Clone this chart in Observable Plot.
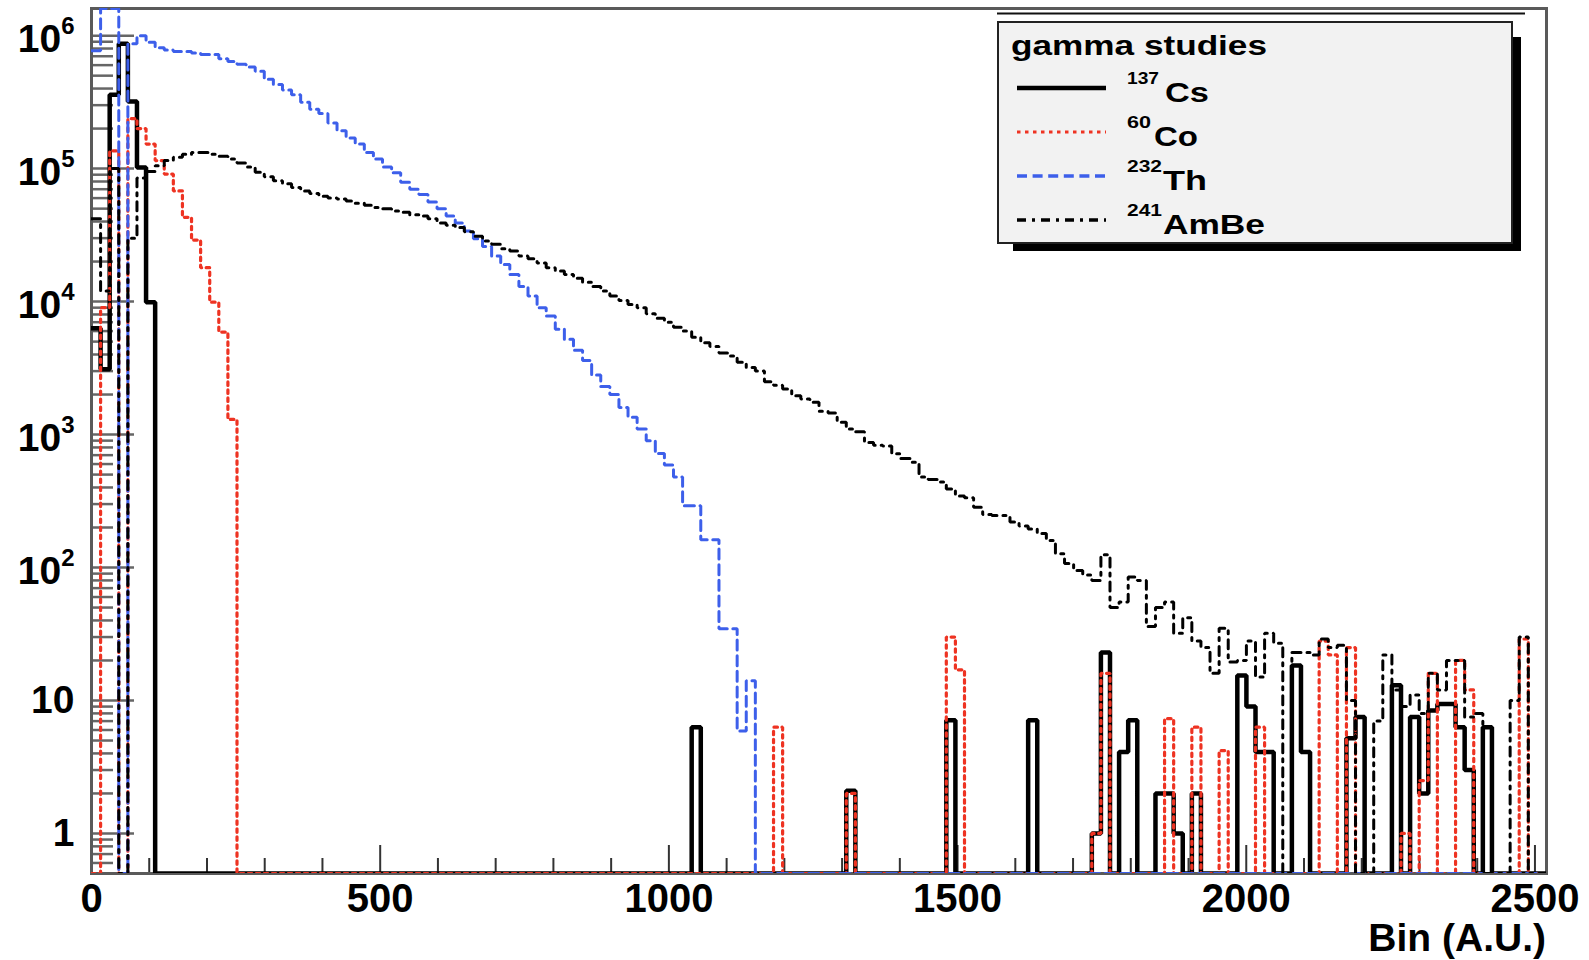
<!DOCTYPE html>
<html><head><meta charset="utf-8">
<script src="https://cdn.jsdelivr.net/npm/d3@7"></script>
<script src="https://cdn.jsdelivr.net/npm/@observablehq/plot@0.6"></script>
<style>
html,body{margin:0;padding:0;background:#fff;}
#chart{position:relative;width:1589px;height:960px;}
</style></head><body><div id="chart"></div>
<script>
// ---------- data ----------
const binWidth = 15.75;          // bin width (A.U.)
const nBins = 160;               // 0 .. 2520
const xDomain = [0, 2520];
const yDomain = [0.5, 1.6e6];

const seriesNames = ["137Cs", "60Co", "232Th", "241AmBe"];

// 137Cs (sparse: bin index -> counts)
const csBins   = [0,1,2,3,4,5,6,66,83,94,103,110,111,113,114,117,118,119,121,126,127,128,129,132,133,138,139,143,145,146,147,148,149,150,151,153];
const csCounts = [6300,3100,3.6e5,8.7e5,3.2e5,1.02e5,9900,6.3,2.1,7.1,7.1,1,23,4.1,7.1,2,2,1,2,15.4,9,4.1,4.1,18.3,4.1,5.2,7.5,13,7.5,2,8.4,9.4,9.4,6.3,3,6.3];

// 60Co (sparse)
const coBins   = [1,2,4,5,6,7,8,9,10,11,12,13,14,15,75,83,94,95,110,111,118,121,124,128,135,136,138,144,146,147,150,151,157];
const coCounts = [9000,1.36e5,2.38e5,2.0e5,1.53e5,1.15e5,9.1e4,6.8e4,4.3e4,2.9e4,1.8e4,9.9e3,5.9e3,1.3e3,6.3,2,30,17,1,16,7.3,6.3,4.2,6.3,28,22,25,1,2.5,16,20,12,29];

// 232Th (dense from bin 0)
const thCounts = [7.7e5,3e6,3e6,0,8.7e5,1.0e6,8.9e5,8.1e5,7.8e5,7.6e5,7.6e5,7.4e5,7.2e5,7.2e5,6.7e5,6.4e5,6.1e5,5.8e5,5.4e5,4.7e5,
  4.3e5,3.9e5,3.6e5,3.15e5,2.8e5,2.6e5,2.2e5,1.93e5,1.7e5,1.53e5,1.32e5,1.18e5,1.03e5,9.3e4,7.9e4,7.0e4,6.4e4,5.6e4,5.0e4,4.4e4,
  3.9e4,3.4e4,2.97e4,2.6e4,2.2e4,1.9e4,1.6e4,1.3e4,1.1e4,9.0e3,7.8e3,6.2e3,5.2e3,4.3e3,3.6e3,2.8e3,2.3e3,2.0e3,1.6e3,1.35e3,
  1.1e3,900,720,590,480,292,292,162,162,34.6,34.6,5.9,14.1];

// 241AmBe (dense from bin 0)
const ambeCounts = [4.2e4,1.2e4,1.0e5,0,3.0e4,8.5e4,9.5e4,1.05e5,1.15e5,1.22e5,1.28e5,1.32e5,1.32e5,1.28e5,1.24e5,1.18e5,1.1e5,1.03e5,9.4e4,8.7e4,
  8.1e4,7.7e4,7.2e4,6.8e4,6.5e4,6.2e4,6.0e4,5.9e4,5.7e4,5.5e4,5.3e4,5.1e4,5.0e4,4.8e4,4.7e4,4.5e4,4.4e4,4.2e4,3.9e4,3.75e4,
  3.6e4,3.35e4,3.1e4,2.85e4,2.7e4,2.5e4,2.4e4,2.2e4,2.1e4,1.95e4,1.8e4,1.7e4,1.6e4,1.5e4,1.4e4,1.3e4,1.2e4,1.1e4,1.02e4,9.5e3,
  9.0e3,8.1e3,7.5e3,7.0e3,6.4e3,6.0e3,5.4e3,4.9e3,4.6e3,4.1e3,3.9e3,3.5e3,3.2e3,3.0e3,2.5e3,2.35e3,2.2e3,1.96e3,1.85e3,1.75e3,
  1.5e3,1.45e3,1.24e3,1.1e3,1.05e3,870,830,820,716,660,620,480,460,440,390,345,335,284,250,246,
  246,220,205,195,180,160,127,107,95,88,80,125,50,55,85,80,36,50,55,32,
  42,28,25,16,35,19.5,20,28,15,32,27,0,23,23,22,29,25,26,10,0,
  0,7,22,12,9,11,8,16,12,20,20,7.5,8,0,0,0,10,30,0,0];

// axis ticks
const xMajor = [0, 500, 1000, 1500, 2000, 2500];
const xMinor = d3.range(100, 2500, 100).filter(v => v % 500 !== 0);
const yMajor = [1, 10, 100, 1e3, 1e4, 1e5, 1e6];
const yMinor = [];
for (let n = -1; n <= 5; n++) for (let k = 2; k <= 9; k++) { const v = k * Math.pow(10, n); if (v >= 0.5 && v <= yDomain[1]) yMinor.push(v); }

// ---------- build ----------
function histPoints(bins, counts) {
  const dense = new Array(nBins).fill(0);
  bins.forEach((b, i) => { dense[b] = counts[i]; });
  const pts = dense.map((v, i) => ({x: i * binWidth, y: Math.min(Math.max(v, yDomain[0]), yDomain[1])}));
  pts.push({x: nBins * binWidth, y: pts[pts.length - 1].y});
  return pts;
}
const csPts = histPoints(csBins, csCounts);
const coPts = histPoints(coBins, coCounts);
const thPts = histPoints(d3.range(thCounts.length), thCounts);
const ambePts = histPoints(d3.range(ambeCounts.length), ambeCounts);

const W = 1589, H = 960, mL = 91, mR = 43, mT = 8, mB = 87;
const plotW = W - mL - mR, plotH = H - mT - mB;

const colCs = "#000000", colCo = "#ee3322", colTh = "#3d5fea", colAm = "#000000";
const dashCo = "3.5,4.5", dashTh = "10,5.6", dashAm = "9,6,3,6";

const plot = Plot.plot({
  width: W, height: H,
  marginLeft: mL, marginRight: mR, marginTop: mT, marginBottom: mB,
  x: {domain: xDomain},
  y: {type: "log", domain: yDomain},
  style: {fontFamily: "'Liberation Sans', Arial, Helvetica, sans-serif", fontWeight: "bold", color: "#000", background: "#fff"},
  marks: [
    Plot.ruleY(yMinor, {stroke: "#666", strokeWidth: 2.5, insetRight: plotW - 22}),
    Plot.ruleY(yMajor, {stroke: "#666", strokeWidth: 2.5, insetRight: plotW - 43}),
    Plot.ruleX(xMinor, {stroke: "#333", strokeWidth: 2, insetTop: plotH - 15}),
    Plot.ruleX(xMajor, {stroke: "#333", strokeWidth: 2, insetTop: plotH - 28}),
    Plot.frame({stroke: "#5a5a5a", strokeWidth: 3}),
    Plot.line(csPts, {x: "x", y: "y", curve: "step-after", stroke: colCs, strokeWidth: 4.5, strokeLinejoin: "miter", clip: true}),
    Plot.line(coPts, {x: "x", y: "y", curve: "step-after", stroke: colCo, strokeWidth: 3.2, strokeDasharray: dashCo, strokeLinejoin: "miter", clip: true}),
    Plot.line(thPts, {x: "x", y: "y", curve: "step-after", stroke: colTh, strokeWidth: 3, strokeDasharray: dashTh, strokeLinejoin: "miter", clip: true}),
    Plot.line(ambePts, {x: "x", y: "y", curve: "step-after", stroke: colAm, strokeWidth: 3, strokeDasharray: dashAm, strokeLinejoin: "miter", clip: true}),
    Plot.axisX({ticks: xMajor, tickSize: 0, tickPadding: 10, fontSize: 40, label: null, tickFormat: d => String(d)}),
    Plot.axisY({ticks: yMajor, tickSize: 0, tickPadding: 17, fontSize: 39, label: null,
      tickFormat: d => d >= 100 ? "10^" + Math.round(Math.log10(d)) : String(d)})
  ]
});
document.getElementById("chart").appendChild(plot);

const svg = d3.select(plot);
// superscript exponents on y labels
svg.selectAll("text").each(function() {
  const t = this.textContent;
  if (t.indexOf("^") >= 0) {
    const [base, exp] = t.split("^");
    const s = d3.select(this);
    s.text(base).attr("dy", 4);
    s.append("tspan").attr("dy", -18).attr("font-size", 24).text(exp);
  }
});

// x-axis title
svg.append("text").attr("x", W - mR).attr("y", 951).attr("text-anchor", "end")
  .attr("font-size", 39).attr("font-weight", "bold").attr("fill", "#000").text("Bin (A.U.)");

// top (title pave) edge line
svg.append("line").attr("x1", 997).attr("x2", 1525).attr("y1", 13.5).attr("y2", 13.5)
  .attr("stroke", "#111").attr("stroke-width", 2);

// legend
const lg = svg.append("g").attr("font-family", "'Liberation Sans', Arial, sans-serif")
  .attr("font-weight", "bold").attr("text-anchor", "start").attr("fill", "#000");
lg.append("rect").attr("x", 1013).attr("y", 37).attr("width", 508).attr("height", 214).attr("fill", "#000");
lg.append("rect").attr("x", 998).attr("y", 22).attr("width", 514).attr("height", 221)
  .attr("fill", "#f2f2f2").attr("stroke", "#222").attr("stroke-width", 2);
lg.append("text").attr("x", 1011).attr("y", 55).attr("font-size", 28).attr("text-anchor", "start")
  .attr("textLength", 256).attr("lengthAdjust", "spacingAndGlyphs").text("gamma studies");

const entries = [
  {sup: "137", main: "Cs", supW: 32, mainX: 1165, mainW: 44, color: colCs, width: 4.5, dash: null},
  {sup: "60", main: "Co", supW: 24, mainX: 1154, mainW: 44, color: colCo, width: 3.2, dash: dashCo},
  {sup: "232", main: "Th", supW: 35, mainX: 1163, mainW: 44, color: colTh, width: 3.5, dash: dashTh},
  {sup: "241", main: "AmBe", supW: 35, mainX: 1163, mainW: 102, color: colAm, width: 3.5, dash: dashAm}
];
entries.forEach((e, i) => {
  const base = 102 + i * 44;
  const ln = lg.append("line").attr("x1", 1017).attr("x2", 1106).attr("y1", base - 14).attr("y2", base - 14)
    .attr("stroke", e.color).attr("stroke-width", e.width);
  if (e.dash) ln.attr("stroke-dasharray", e.dash);
  lg.append("text").attr("x", 1127).attr("y", base - 18).attr("font-size", 17).attr("text-anchor", "start")
    .attr("textLength", e.supW).attr("lengthAdjust", "spacingAndGlyphs").text(e.sup);
  lg.append("text").attr("x", e.mainX).attr("y", base).attr("font-size", 27).attr("text-anchor", "start")
    .attr("textLength", e.mainW).attr("lengthAdjust", "spacingAndGlyphs").text(e.main);
});
</script>
</body></html>
